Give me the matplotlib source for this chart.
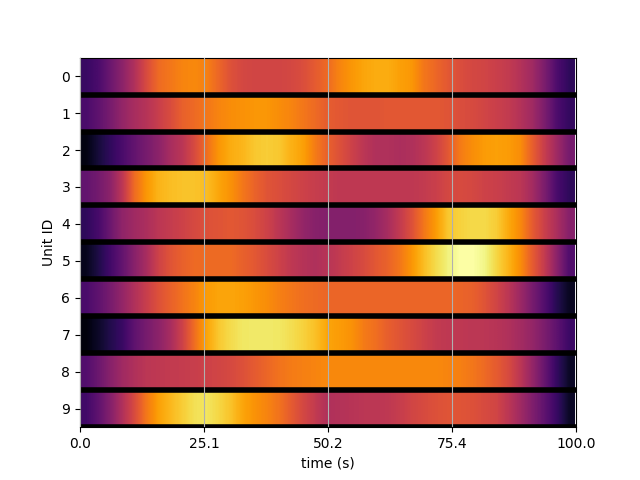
import numpy as np
import matplotlib
matplotlib.use("Agg")
import matplotlib.pyplot as plt

# Normalised activity per unit, one sample every 2.5 s
unit_0 = [.18,.22,.30,.38,.47,.58,.67,.70,.73,.74,.72,.66,.60,.57,.56,.56,.56,.57,.59,.63,.67,.73,.77,.80,.815,.815,.79,.77,.70,.66,.62,.59,.57,.56,.54,.52,.48,.43,.34,.23,.16]
unit_1 = [.22,.27,.33,.40,.45,.485,.535,.585,.645,.67,.70,.73,.75,.76,.77,.77,.75,.73,.70,.67,.635,.62,.61,.61,.61,.62,.62,.62,.62,.62,.61,.59,.58,.56,.54,.52,.48,.43,.34,.23,.17]
unit_2 = [.03,.10,.16,.22,.28,.33,.38,.45,.50,.58,.68,.77,.815,.835,.87,.88,.87,.825,.79,.71,.645,.60,.55,.50,.47,.47,.46,.47,.50,.55,.62,.71,.75,.78,.79,.78,.75,.64,.53,.43,.33]
unit_3 = [.28,.32,.38,.50,.67,.77,.83,.85,.86,.86,.85,.80,.76,.70,.65,.61,.59,.57,.55,.53,.52,.51,.51,.51,.51,.51,.51,.51,.52,.54,.57,.58,.57,.55,.54,.52,.50,.44,.34,.22,.16]
unit_4 = [.16,.21,.30,.39,.43,.46,.50,.525,.55,.575,.60,.61,.62,.61,.585,.55,.50,.45,.40,.37,.36,.36,.36,.37,.40,.45,.52,.60,.70,.78,.87,.89,.905,.905,.88,.81,.74,.63,.54,.46,.37]
unit_5 = [.05,.12,.20,.28,.37,.45,.55,.61,.645,.67,.67,.67,.67,.645,.62,.585,.55,.51,.485,.47,.49,.52,.55,.58,.62,.65,.70,.77,.85,.91,.96,1.0,1.0,.97,.90,.83,.75,.63,.52,.38,.24]
unit_6 = [.22,.27,.33,.40,.47,.535,.60,.645,.69,.73,.78,.80,.80,.79,.77,.75,.72,.70,.68,.67,.66,.66,.66,.66,.66,.66,.66,.66,.66,.66,.66,.655,.645,.61,.56,.50,.42,.33,.24,.14,.06]
unit_7 = [.02,.07,.13,.18,.27,.33,.38,.45,.55,.68,.80,.87,.91,.935,.94,.94,.935,.915,.89,.855,.80,.78,.76,.71,.68,.64,.61,.58,.55,.52,.51,.51,.50,.50,.49,.47,.44,.40,.34,.27,.19]
unit_8 = [.24,.30,.37,.43,.47,.50,.51,.52,.525,.535,.55,.56,.575,.60,.63,.66,.69,.71,.72,.73,.74,.74,.74,.74,.74,.74,.74,.74,.74,.74,.73,.72,.70,.67,.63,.58,.50,.40,.29,.17,.07]
unit_9 = [.20,.27,.36,.47,.58,.70,.79,.84,.88,.92,.93,.90,.86,.80,.76,.73,.69,.63,.57,.52,.47,.48,.49,.50,.50,.51,.53,.56,.58,.60,.61,.61,.60,.58,.56,.50,.43,.35,.27,.18,.07]
units = [unit_0, unit_1, unit_2, unit_3, unit_4, unit_5, unit_6, unit_7, unit_8, unit_9]

unit_ids = list(range(10))
time_ticks = [0, 25, 50, 75, 100]
time_labels = ["0.0", "25.1", "50.2", "75.4", "100.0"]
time_end = 99.7

fig, ax = plt.subplots(figsize=(6.4, 4.8), dpi=100)

# One strip per unit so that rows never blend into each other
for uid, values in zip(unit_ids, units):
    ax.imshow(np.array(values)[None, :], extent=(0, time_end, uid + 0.5, uid - 0.5),
              aspect="auto", cmap="inferno", vmin=0, vmax=1, interpolation="bilinear")

for uid in unit_ids:
    ax.axhline(uid + 0.5, color="black", linewidth=4, zorder=2)

ax.set_xlim(0, 100)
ax.set_ylim(9.5, -0.5)
ax.set_xticks(time_ticks)
ax.set_xticklabels(time_labels)
ax.set_yticks(unit_ids)
ax.grid(axis="x", zorder=3)
ax.set_axisbelow(False)
ax.set_xlabel("time (s)")
ax.set_ylabel("Unit ID")

fig.savefig("out.png", dpi=100)
